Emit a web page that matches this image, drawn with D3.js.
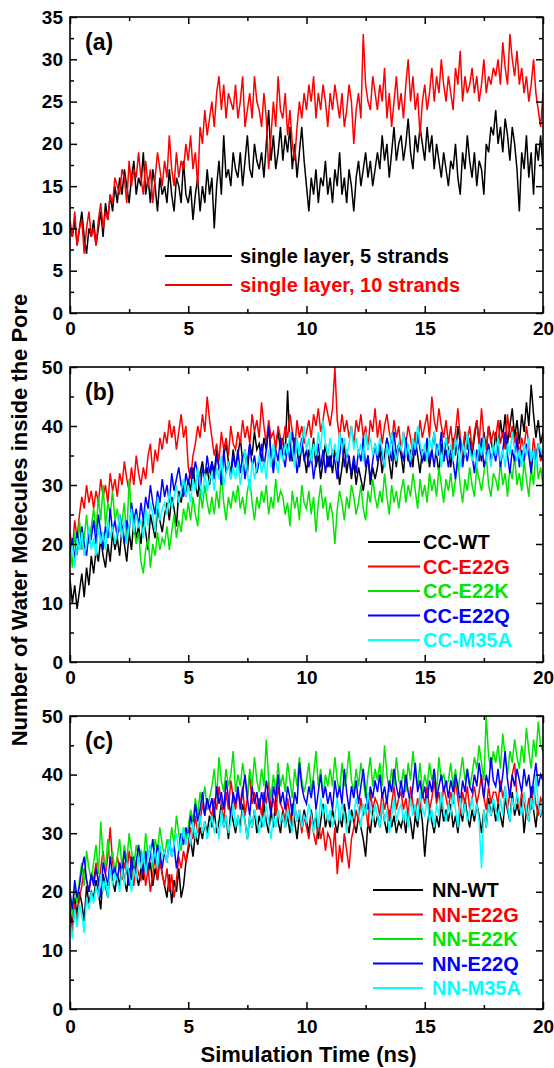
<!DOCTYPE html>
<html>
<head>
<meta charset="utf-8">
<script src="https://cdn.jsdelivr.net/npm/d3@7"></script>
<style>
  body { margin: 0; background: #fff; }
  svg { display: block; font-family: "Liberation Sans", Arial, sans-serif; font-weight: bold; }
</style>
</head>
<body>
<svg id="chart" width="554" height="1068"></svg>
<script>
// sampling step of every trace, ns (index i -> time i * dt)
const dt = 0.1;
const xTickValues = [0, 5, 10, 15, 20];

// ---- panel (a): single layer ----
const aFiveStrands = [
  10,9,11,8,10,12,9,7,10,9,
  11,8,10,12,9,13,11,14,12,15,
  13,16,14,17,15,13,16,18,14,16,
  15,19,14,16,13,17,15,12,16,14,
  15,13,17,14,12,16,15,13,18,14,
  13,15,11,14,16,12,15,13,17,14,
  16,10,15,18,14,21,16,17,15,19,
  17,16,19,15,18,21,17,16,20,18,
  17,19,16,20,24,18,21,17,19,22,
  18,21,19,22,17,20,16,19,22,18,
  15,12,16,14,17,13,16,15,18,14,
  16,13,17,15,19,14,16,13,17,15,
  12,16,18,15,17,19,16,18,15,17,
  19,17,21,18,20,16,19,22,18,20,
  21,18,20,23,19,17,21,19,22,20,
  18,22,19,21,17,20,18,16,19,17,
  15,18,17,20,16,14,19,17,21,18,
  16,19,15,18,17,14,20,19,22,21,
  24,20,22,19,23,21,18,22,20,17,
  12,19,17,21,16,19,14,20,18,21,
  17
];
const aTenStrands = [
  11,9,12,8,10,11,7,10,12,9,
  10,8,11,13,10,12,11,14,13,16,
  15,14,17,16,13,18,15,17,16,19,
  16,14,18,15,17,13,16,19,17,15,
  18,16,21,17,15,19,16,18,17,20,
  18,21,17,19,15,22,20,24,21,23,
  25,22,26,28,24,27,23,26,25,24,
  27,23,25,28,22,24,26,23,28,25,
  24,22,26,23,17,21,25,22,28,24,
  23,26,21,24,20,18,22,25,23,26,
  24,27,25,28,23,26,24,27,25,22,
  26,24,27,25,23,26,22,24,27,25,
  20,24,26,23,33,27,25,24,28,26,
  24,27,25,29,23,26,22,25,28,24,
  26,23,27,30,25,28,24,26,21,25,
  27,24,26,29,25,28,26,30,27,25,
  28,26,24,29,27,31,25,28,26,27,
  29,26,28,25,27,30,26,28,27,29,
  28,30,27,32,29,27,33,30,28,31,
  27,29,26,28,25,27,30,26,24,22,
  26
];

// ---- panel (b): CC ----
const ccWT = [
  14,10,13,9,12,15,11,16,13,18,
  15,19,17,21,18,16,20,17,22,19,
  21,18,23,20,17,22,19,24,21,23,
  20,24,22,19,25,23,21,26,24,22,
  25,27,24,28,26,23,29,27,30,28,
  31,29,33,30,28,32,34,31,33,30,
  34,32,36,33,31,35,37,34,32,36,
  33,35,38,34,36,32,37,35,39,36,
  37,34,38,36,40,35,33,37,39,36,
  38,35,46,37,34,38,36,33,37,35,
  32,36,34,38,33,35,31,34,37,33,
  35,32,36,34,30,33,37,32,35,31,
  34,30,33,31,29,32,35,30,33,31,
  33,36,32,35,38,34,31,36,33,37,
  35,32,37,34,36,33,38,35,32,36,
  34,37,33,36,39,35,32,37,34,38,
  36,33,38,35,40,37,34,39,36,38,
  35,38,41,37,34,39,36,40,38,35,
  39,36,41,38,42,37,40,43,38,41,
  37,42,39,44,40,47,42,38,41,37,
  39
];
const ccE22G = [
  22,19,24,21,25,28,26,30,27,29,
  26,29,27,31,28,30,27,32,29,31,
  28,32,30,34,31,29,33,30,35,32,
  30,33,31,35,37,32,36,34,38,36,
  39,37,41,38,40,36,39,42,38,40,
  33,31,35,37,40,38,42,39,45,41,
  38,35,37,34,39,36,38,35,40,37,
  36,39,37,41,38,40,37,42,39,41,
  38,44,40,37,41,38,39,36,40,38,
  37,40,38,42,39,36,41,38,40,37,
  39,41,38,42,40,43,39,41,44,42,
  40,43,50,41,38,42,39,41,38,40,
  37,41,39,42,38,40,36,41,39,43,
  38,41,37,40,42,39,37,41,38,40,
  36,39,37,40,38,35,39,37,41,38,
  40,42,38,45,41,39,43,40,38,41,
  37,40,36,39,43,38,35,39,37,40,
  36,39,41,37,43,38,36,40,37,39,
  38,41,37,39,36,42,38,40,37,39,
  35,38,36,40,37,33,38,35,37,34,
  36
];
const ccE22K = [
  20,16,22,18,24,19,21,25,20,23,
  26,22,28,24,30,23,27,25,29,24,
  26,22,24,27,21,31,25,23,20,22,
  17,15,19,21,16,20,18,22,19,21,
  20,23,19,22,25,21,24,22,26,24,
  27,24,28,25,23,29,26,30,27,25,
  28,25,29,26,32,27,24,28,26,29,
  27,30,26,28,25,29,31,27,24,28,
  26,29,27,30,25,28,26,31,27,29,
  28,25,27,23,29,26,28,24,30,27,
  26,29,25,28,22,27,30,26,28,24,
  27,25,20,26,29,27,24,28,26,30,
  28,25,27,30,26,24,29,27,31,28,
  26,29,27,32,28,25,30,27,29,26,
  29,31,27,30,28,32,29,26,31,28,
  30,27,32,29,31,28,33,30,27,31,
  29,32,28,31,34,30,27,31,29,33,
  30,28,33,31,29,32,35,30,28,32,
  31,29,34,30,32,28,33,31,35,30,
  32,29,34,31,28,33,30,36,31,33,
  30
];
const ccE22Q = [
  18,21,17,22,19,23,20,18,22,21,
  24,20,25,22,19,23,21,26,22,24,
  21,25,23,20,24,22,27,24,26,23,
  27,24,28,26,30,27,25,29,27,31,
  28,30,27,32,29,31,33,30,28,32,
  30,33,31,34,32,29,33,31,35,32,
  34,31,35,33,30,36,32,34,31,35,
  33,36,32,35,31,34,37,33,35,32,
  34,37,33,36,40,35,32,36,34,38,
  35,33,37,34,39,36,32,35,38,34,
  36,33,35,31,34,37,33,36,32,35,
  33,36,34,31,35,38,33,36,34,32,
  35,32,36,34,38,33,35,31,34,37,
  34,37,35,33,38,36,34,39,35,37,
  36,34,38,35,33,37,35,39,36,34,
  35,38,34,36,33,37,35,39,34,36,
  33,36,34,31,35,38,33,36,34,37,
  35,32,36,34,38,33,35,37,34,36,
  34,37,33,36,39,35,32,36,34,38,
  33,36,34,37,35,32,36,34,37,35,
  34
];
const ccM35A = [
  17,20,16,21,19,22,18,20,23,19,
  21,18,23,20,22,19,24,21,23,20,
  22,25,21,24,20,23,26,22,25,23,
  24,21,26,23,27,25,22,28,24,26,
  27,25,29,26,28,30,27,29,31,28,
  30,27,31,29,33,30,28,32,29,31,
  32,29,33,31,35,30,32,34,31,33,
  31,34,30,33,36,32,29,34,31,33,
  35,32,34,31,36,33,37,34,32,36,
  34,37,35,39,36,33,38,35,37,40,
  36,38,34,37,35,39,36,41,37,35,
  38,35,37,34,39,36,38,35,37,40,
  36,38,35,37,34,39,36,38,35,37,
  35,38,36,33,37,35,39,36,34,37,
  36,39,35,37,34,38,36,40,37,35,
  37,34,38,36,39,35,37,33,36,38,
  35,37,34,38,36,33,37,35,39,36,
  34,36,33,37,35,38,34,36,33,37,
  35,38,34,36,33,37,35,39,36,34,
  36,33,37,35,38,34,36,33,37,36,
  35
];

// ---- panel (c): NN ----
const nnWT = [
  17,14,19,16,20,18,15,21,18,20,
  19,22,20,17,23,21,19,24,22,20,
  23,21,25,22,20,24,22,26,23,21,
  24,22,26,23,25,21,24,22,27,23,
  21,19,23,18,22,20,24,19,21,25,
  27,29,26,30,28,31,29,32,30,33,
  31,34,30,32,35,31,33,29,34,32,
  30,33,31,35,32,29,33,31,34,30,
  33,31,35,32,30,34,31,36,32,30,
  34,31,33,30,35,32,29,33,31,34,
  32,30,34,31,33,29,32,35,31,33,
  31,34,32,30,33,31,35,32,30,34,
  32,30,33,31,29,26,32,30,34,31,
  33,31,35,32,30,34,31,33,30,32,
  31,33,30,34,32,29,33,31,35,32,
  26,31,34,32,30,33,31,35,32,34,
  32,35,31,33,30,34,32,36,33,31,
  34,32,35,33,30,34,31,36,33,35,
  32,35,33,31,36,34,32,37,33,35,
  33,36,30,34,32,38,34,31,35,33,
  34
];
const nnE22G = [
  16,13,18,15,19,21,24,22,20,23,
  22,25,21,24,27,23,26,31,25,23,
  26,24,22,25,23,27,24,21,25,23,
  22,25,21,24,20,23,26,22,25,23,
  21,24,20,23,19,22,26,24,27,25,
  28,31,29,33,30,32,35,33,36,34,
  33,36,34,38,35,32,37,34,39,36,
  34,37,35,38,33,36,40,35,37,34,
  36,33,37,35,39,34,36,33,38,35,
  34,32,36,33,31,35,32,34,30,33,
  31,29,33,30,28,32,29,31,27,30,
  29,26,31,23,28,25,30,27,24,29,
  31,34,32,36,33,35,31,37,34,36,
  35,33,37,34,36,32,35,38,34,36,
  37,34,36,33,38,35,33,36,34,37,
  35,38,34,36,39,35,37,34,38,36,
  34,37,35,39,36,33,37,35,38,34,
  36,38,35,37,40,36,34,38,35,37,
  37,35,39,36,38,34,37,40,42,36,
  34,37,35,33,36,34,38,35,33,36,
  35
];
const nnE22K = [
  19,16,21,18,22,25,21,27,24,22,
  25,28,23,32,26,24,29,25,27,23,
  26,29,24,28,25,30,27,24,28,26,
  27,25,30,26,28,24,29,27,31,28,
  26,29,27,31,28,33,30,27,31,29,
  31,34,32,36,33,37,35,38,34,36,
  38,41,36,43,39,37,41,38,40,44,
  37,40,38,42,39,36,41,38,43,39,
  37,41,38,46,39,36,40,37,42,38,
  40,37,42,39,36,41,38,43,39,37,
  39,42,37,40,44,38,41,36,40,38,
  41,38,43,39,37,42,38,40,44,39,
  37,41,38,42,39,36,40,43,38,41,
  39,42,38,45,40,37,41,38,43,39,
  38,41,37,42,39,44,40,38,42,37,
  40,38,42,39,41,37,43,39,40,38,
  39,42,38,41,37,40,43,39,41,38,
  40,43,41,45,42,39,50,43,41,44,
  42,45,41,47,43,40,44,42,46,43,
  41,45,42,48,44,41,46,43,49,45,
  44
];
const nnE22Q = [
  20,17,22,19,21,24,26,22,20,23,
  21,24,22,19,25,23,21,26,23,24,
  22,25,23,27,24,21,26,23,25,28,
  25,23,27,24,26,29,25,28,26,24,
  27,25,29,26,28,24,27,30,28,31,
  29,33,31,35,32,34,37,33,36,34,
  36,33,38,35,37,34,39,36,33,37,
  35,38,34,37,40,36,33,38,35,37,
  34,37,35,39,36,33,38,36,40,35,
  37,34,38,36,33,37,35,42,38,36,
  35,38,36,39,34,37,40,36,38,35,
  37,34,39,36,38,35,41,37,34,38,
  36,39,35,38,41,37,34,38,36,39,
  37,40,36,38,35,39,37,41,38,36,
  39,36,40,37,35,38,42,37,39,36,
  38,35,39,37,41,36,38,40,37,39,
  36,39,37,40,38,35,39,37,41,38,
  37,40,38,42,39,36,40,38,43,39,
  38,41,37,40,44,39,36,40,38,41,
  39,37,41,38,40,36,39,42,38,40,
  39
];
const nnM35A = [
  15,12,17,14,18,16,13,19,17,20,
  18,21,19,23,20,22,19,24,21,23,
  22,20,24,21,25,23,20,24,22,26,
  24,27,23,26,28,25,27,24,28,26,
  27,25,29,26,28,30,27,29,31,28,
  30,28,32,29,31,33,30,32,29,31,
  33,30,32,29,34,31,33,30,32,35,
  31,33,30,34,32,29,33,31,34,32,
  30,33,31,35,32,29,33,31,34,32,
  33,31,34,32,30,35,32,34,31,33,
  32,35,33,30,34,31,36,33,35,32,
  34,31,33,36,32,35,33,30,34,32,
  33,36,34,31,35,33,37,34,32,35,
  33,31,35,32,34,30,33,36,32,34,
  35,32,34,31,36,33,35,32,37,34,
  33,36,32,34,31,35,33,37,34,32,
  35,33,37,34,31,36,33,35,32,34,
  36,33,35,32,24,34,31,35,33,36,
  34,32,36,33,38,35,32,36,34,37,
  35,33,37,34,32,36,34,40,35,33,
  36
];

const BLACK = "#000000", RED = "#ff0000", GREEN = "#00e600", BLUE = "#0000ff", CYAN = "#00ffff";

const panels = [
  {
    label: "(a)", top: 17, bottom: 313, yMax: 35, yMajor: d3.range(0, 36, 5), yMinor: d3.range(2.5, 35, 5),
    series: [
      { name: "single layer, 5 strands", color: BLACK, values: aFiveStrands },
      { name: "single layer, 10 strands", color: RED, values: aTenStrands }
    ],
    legend: { x0: 165, x1: 232, tx: 240, y0: 256, dy: 29 }
  },
  {
    label: "(b)", top: 367, bottom: 662, yMax: 50, yMajor: d3.range(0, 51, 10), yMinor: d3.range(5, 50, 10),
    series: [
      { name: "CC-WT", color: BLACK, values: ccWT },
      { name: "CC-E22G", color: RED, values: ccE22G },
      { name: "CC-E22K", color: GREEN, values: ccE22K },
      { name: "CC-E22Q", color: BLUE, values: ccE22Q },
      { name: "CC-M35A", color: CYAN, values: ccM35A }
    ],
    legend: { x0: 368, x1: 420, tx: 423, y0: 542, dy: 24.5 }
  },
  {
    label: "(c)", top: 716, bottom: 1009, yMax: 50, yMajor: d3.range(0, 51, 10), yMinor: d3.range(5, 50, 10),
    series: [
      { name: "NN-WT", color: BLACK, values: nnWT },
      { name: "NN-E22G", color: RED, values: nnE22G },
      { name: "NN-E22K", color: GREEN, values: nnE22K },
      { name: "NN-E22Q", color: BLUE, values: nnE22Q },
      { name: "NN-M35A", color: CYAN, values: nnM35A }
    ],
    legend: { x0: 373, x1: 423, tx: 432, y0: 890, dy: 24.5 }
  }
];

const svg = d3.select("#chart");
const left = 70, right = 543;
const x = d3.scaleLinear().domain([0, 20]).range([left, right]);
const xMinor = [2.5, 7.5, 12.5, 17.5];

function styleAxis(g) {
  g.select(".domain").remove();
  g.selectAll("line").attr("stroke", "#000").attr("stroke-width", 1.5);
  g.selectAll("text").attr("fill", "#000").style("font-size", "19px")
    .style("font-family", '"Liberation Sans", Arial, sans-serif').style("font-weight", "bold");
}

panels.forEach((p, pi) => {
  const y = d3.scaleLinear().domain([0, p.yMax]).range([p.bottom, p.top]);
  const g = svg.append("g").attr("class", "panel");

  g.append("clipPath").attr("id", "clip" + pi)
    .append("rect").attr("x", left).attr("y", p.top).attr("width", right - left).attr("height", p.bottom - p.top);

  // traces
  const line = d3.line().x((d, i) => x(i * dt)).y(d => y(d));
  const traces = g.append("g").attr("clip-path", `url(#clip${pi})`);
  p.series.forEach(s => {
    traces.append("path").datum(s.values)
      .attr("d", line)
      .attr("fill", "none")
      .attr("stroke", s.color)
      .attr("stroke-width", 1.5)
      .attr("stroke-linejoin", "miter");
  });

  // axes: ticks point inward, mirrored on top/right
  g.append("g").attr("transform", `translate(0,${p.bottom})`)
    .call(d3.axisBottom(x).tickValues(xTickValues).tickSizeInner(-7).tickSizeOuter(0).tickPadding(pi === 2 ? 11 : 9).tickFormat(d3.format("d")))
    .call(styleAxis);
  g.append("g").attr("transform", `translate(0,${p.bottom})`)
    .call(d3.axisBottom(x).tickValues(xMinor).tickSizeInner(-4).tickSizeOuter(0).tickFormat(""))
    .call(styleAxis);
  g.append("g").attr("transform", `translate(0,${p.top})`)
    .call(d3.axisTop(x).tickValues(xTickValues).tickSizeInner(-7).tickSizeOuter(0).tickFormat(""))
    .call(styleAxis);
  g.append("g").attr("transform", `translate(0,${p.top})`)
    .call(d3.axisTop(x).tickValues(xMinor).tickSizeInner(-4).tickSizeOuter(0).tickFormat(""))
    .call(styleAxis);

  g.append("g").attr("transform", `translate(${left},0)`)
    .call(d3.axisLeft(y).tickValues(p.yMajor).tickSizeInner(-7).tickSizeOuter(0).tickPadding(7).tickFormat(d3.format("d")))
    .call(styleAxis);
  g.append("g").attr("transform", `translate(${left},0)`)
    .call(d3.axisLeft(y).tickValues(p.yMinor).tickSizeInner(-4).tickSizeOuter(0).tickFormat(""))
    .call(styleAxis);
  g.append("g").attr("transform", `translate(${right},0)`)
    .call(d3.axisRight(y).tickValues(p.yMajor).tickSizeInner(-7).tickSizeOuter(0).tickFormat(""))
    .call(styleAxis);
  g.append("g").attr("transform", `translate(${right},0)`)
    .call(d3.axisRight(y).tickValues(p.yMinor).tickSizeInner(-4).tickSizeOuter(0).tickFormat(""))
    .call(styleAxis);

  // frame
  g.append("rect")
    .attr("x", left).attr("y", p.top)
    .attr("width", right - left).attr("height", p.bottom - p.top)
    .attr("fill", "none").attr("stroke", "#000").attr("stroke-width", 1.6);

  // panel label
  g.append("text").attr("x", 85).attr("y", p.top + 33)
    .style("font-size", "23px").text(p.label);

  // legend
  const lg = g.append("g").attr("class", "legend");
  p.series.forEach((s, i) => {
    const ly = p.legend.y0 + i * p.legend.dy;
    lg.append("line").attr("x1", p.legend.x0).attr("x2", p.legend.x1)
      .attr("y1", ly).attr("y2", ly).attr("stroke", s.color).attr("stroke-width", 2);
    lg.append("text").attr("x", p.legend.tx).attr("y", ly).attr("dy", "0.35em")
      .attr("fill", s.color).style("font-size", "20px").text(s.name);
  });
});

// axis titles
svg.append("text").attr("x", (left + right) / 2 + 2).attr("y", 1062)
  .attr("text-anchor", "middle").style("font-size", "22px")
  .text("Simulation Time (ns)");
svg.append("text")
  .attr("transform", `translate(27,520) rotate(-90)`)
  .attr("text-anchor", "middle").style("font-size", "22px")
  .text("Number of Water Molecules inside the Pore");
</script>
</body>
</html>
